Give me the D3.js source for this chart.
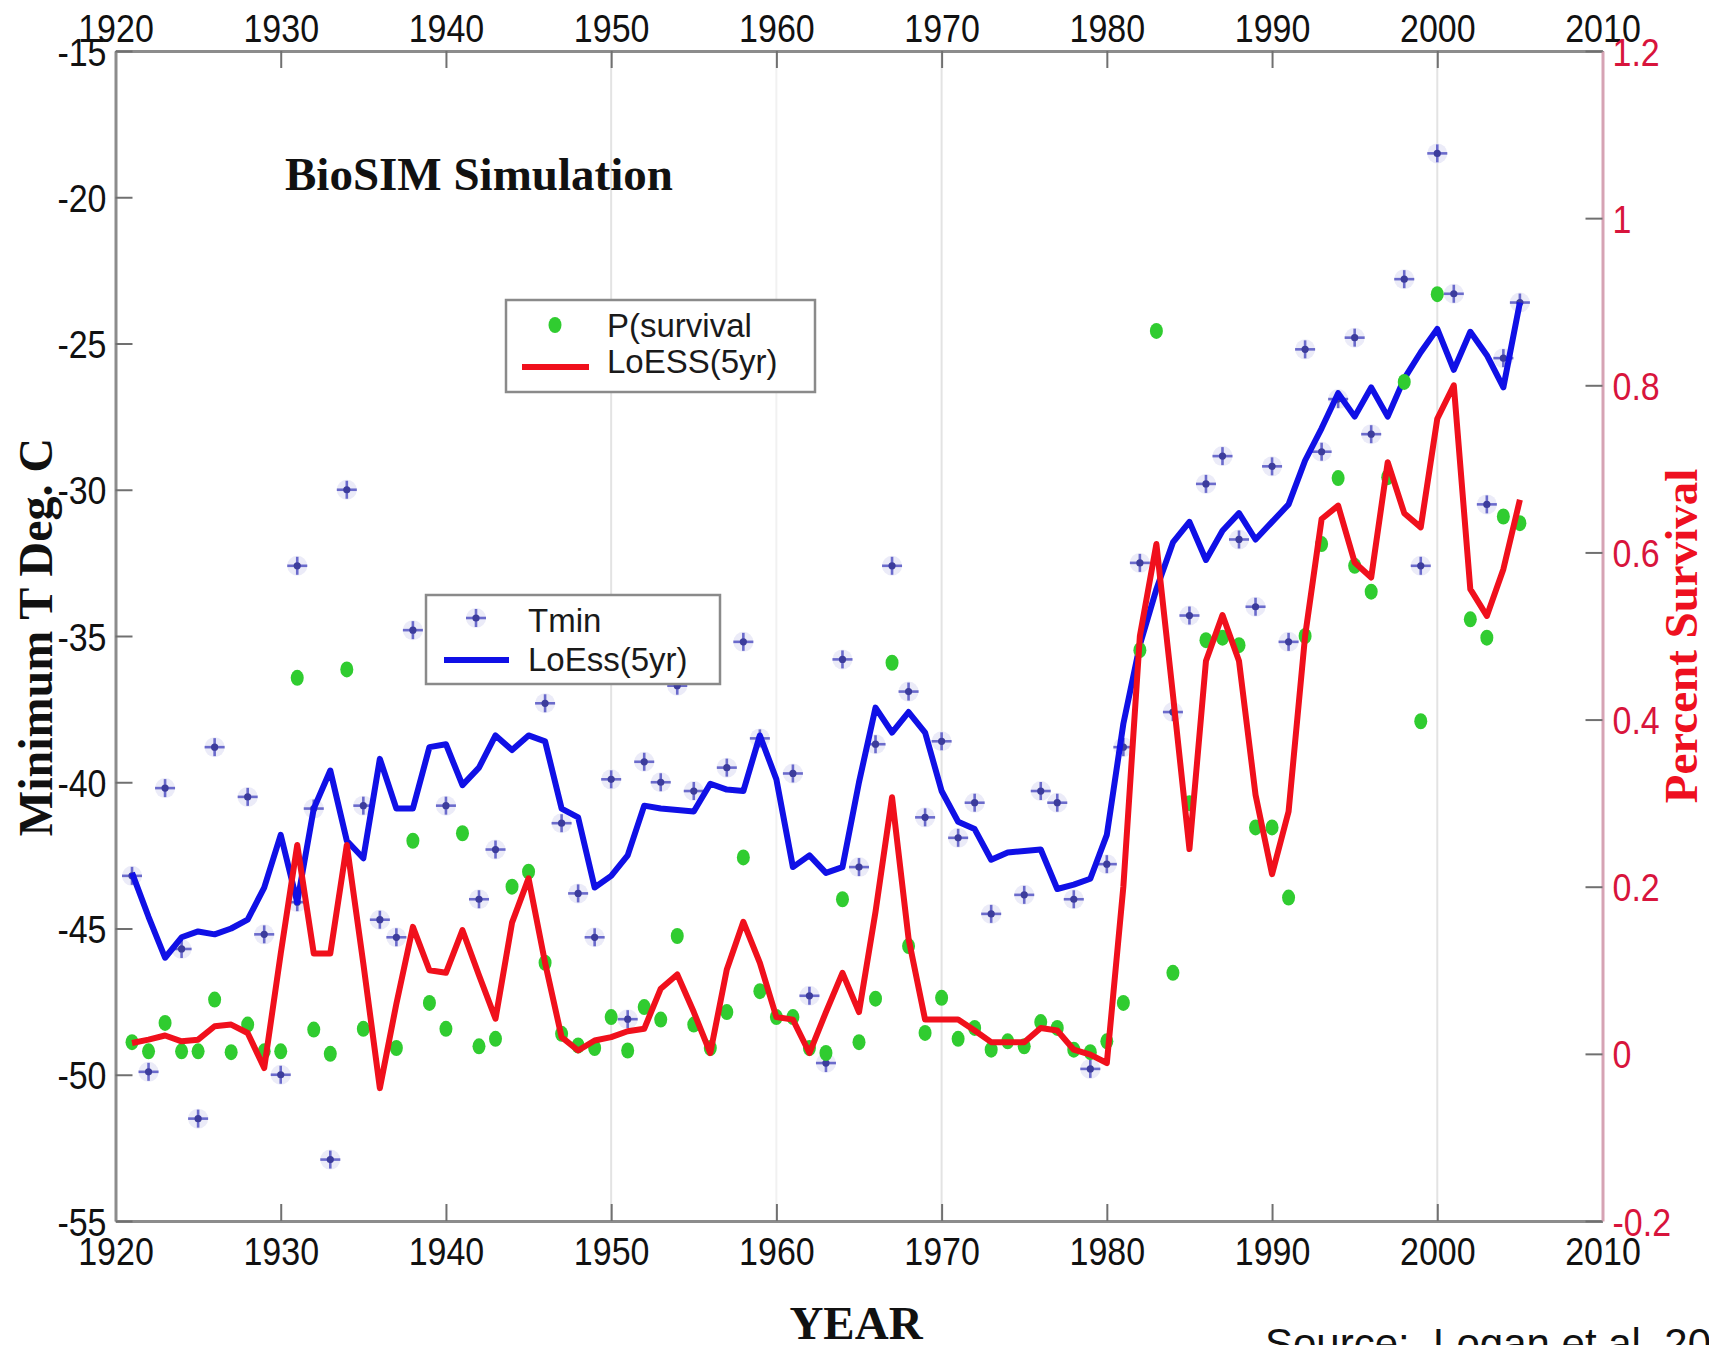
<!DOCTYPE html>
<html>
<head>
<meta charset="utf-8">
<script src="https://cdn.jsdelivr.net/npm/d3@7"></script>
<style>
  html, body { margin: 0; padding: 0; background: #fff; overflow: hidden; }
  svg { display: block; }
</style>
</head>
<body>
<svg id="chart"></svg>
<script>
// ---- data ----
const xTicks = [1920, 1930, 1940, 1950, 1960, 1970, 1980, 1990, 2000, 2010];
const tTicks = [-15, -20, -25, -30, -35, -40, -45, -50, -55];
const pTicks = [1.2, 1, 0.8, 0.6, 0.4, 0.2, 0, -0.2];

// 5-yr LoESS curves, one value per year 1921..2005
const loessYears = d3.range(1921, 2006);
const tminLoess = [
  -43.1, -44.6, -46.0, -45.3, -45.1, -45.2, -45.0, -44.7, -43.6, -41.8,
  -44.1, -40.9, -39.6, -42.0, -42.6, -39.2, -40.9, -40.9, -38.8, -38.7,
  -40.1, -39.5, -38.4, -38.9, -38.4, -38.6, -40.9, -41.2, -43.6, -43.2,
  -42.5, -40.8, -40.9, -40.95, -41.0, -40.05, -40.25, -40.3, -38.4, -39.9,
  -42.9, -42.5, -43.1, -42.9, -40.0, -37.45, -38.3, -37.6, -38.3, -40.3,
  -41.35, -41.6, -42.65, -42.4, -42.35, -42.3, -43.65, -43.5, -43.3, -41.8,
  -38.0, -35.3, -33.4, -31.8, -31.1, -32.4, -31.4, -30.8, -31.7, -31.1,
  -30.5, -29.0, -27.9, -26.7, -27.5, -26.5, -27.5, -26.2, -25.3, -24.5,
  -25.9, -24.6, -25.4, -26.5, -23.6
];
const survLoess = [
  0.013, 0.017, 0.022, 0.015, 0.017, 0.033, 0.035, 0.025, -0.017, 0.12,
  0.25, 0.12, 0.12, 0.25, 0.108, -0.041, 0.06, 0.152, 0.10, 0.097,
  0.148, 0.094, 0.042, 0.157, 0.21, 0.109, 0.02, 0.004, 0.016, 0.02,
  0.027, 0.03, 0.078, 0.095, 0.05, 0.001, 0.101, 0.158, 0.109, 0.044,
  0.041, 0.001, 0.05, 0.097, 0.05, 0.17, 0.307, 0.138, 0.041, 0.041,
  0.041, 0.028, 0.014, 0.014, 0.014, 0.031, 0.028, 0.005, -0.001, -0.011,
  0.20, 0.50, 0.61, 0.43, 0.245, 0.47, 0.525, 0.47, 0.31, 0.215,
  0.29, 0.50, 0.64, 0.656, 0.588, 0.57, 0.708, 0.647, 0.63, 0.76,
  0.80, 0.556, 0.524, 0.58, 0.663
];

// yearly Tmin points (blue stars)
const tminYears = [
  1921, 1922, 1923, 1924, 1925, 1926, 1928, 1929, 1930, 1931, 1931, 1932, 1933, 1934, 1935,
  1936, 1937, 1938, 1940, 1942, 1943, 1946, 1947, 1948, 1949, 1950, 1951, 1952, 1953, 1954,
  1955, 1957, 1958, 1959, 1961, 1962, 1963, 1964, 1965, 1966, 1967, 1968, 1969, 1970, 1971,
  1972, 1973, 1975, 1976, 1977, 1978, 1979, 1980, 1981, 1982, 1984, 1985, 1986, 1987, 1988,
  1989, 1990, 1991, 1992, 1993, 1994, 1995, 1996, 1998, 1999, 2000, 2001, 2003, 2004, 2005
];
const tminValues = [
  -43.2, -49.9, -40.2, -45.7, -51.5, -38.8, -40.5, -45.2, -50.0, -32.6, -44.1, -40.9, -52.9, -30.0, -40.8,
  -44.7, -45.3, -34.8, -40.8, -44.0, -42.3, -37.3, -41.4, -43.8, -45.3, -39.9, -48.1, -39.3, -40.0, -36.7,
  -40.3, -39.5, -35.2, -38.5, -39.7, -47.3, -49.6, -35.8, -42.9, -38.7, -32.6, -36.9, -41.2, -38.6, -41.9,
  -40.7, -44.5, -43.85, -40.3, -40.7, -44.0, -49.8, -42.8, -38.8, -32.5, -37.6, -34.3, -29.8, -28.85, -31.7,
  -34.0, -29.2, -35.2, -25.2, -28.7, -26.9, -24.8, -28.1, -22.8, -32.6, -18.5, -23.3, -30.5, -25.5, -23.6
];

// yearly P(survival) points (green dots)
const survYears = [
  1921, 1922, 1923, 1924, 1925, 1926, 1927, 1928, 1929, 1930, 1931, 1932, 1933, 1934, 1935,
  1937, 1938, 1939, 1940, 1941, 1942, 1943, 1944, 1945, 1946, 1947, 1948, 1949, 1950, 1951,
  1952, 1953, 1954, 1955, 1956, 1957, 1958, 1959, 1960, 1961, 1962, 1963, 1964, 1965, 1966,
  1967, 1968, 1969, 1970, 1971, 1972, 1973, 1974, 1975, 1976, 1977, 1978, 1979, 1980, 1981,
  1982, 1983, 1984, 1985, 1986, 1987, 1988, 1989, 1990, 1991, 1992, 1993, 1994, 1995, 1996,
  1997, 1998, 1999, 2000, 2002, 2003, 2004, 2005
];
const survValues = [
  0.014, 0.003, 0.037, 0.003, 0.003, 0.065, 0.002, 0.035, 0.003, 0.003, 0.45, 0.029, 0.0, 0.46, 0.03,
  0.007, 0.255, 0.061, 0.03, 0.264, 0.009, 0.018, 0.20, 0.218, 0.109, 0.024, 0.01, 0.007, 0.044, 0.004,
  0.056, 0.041, 0.141, 0.035, 0.007, 0.05, 0.235, 0.075, 0.044, 0.044, 0.007, 0.001, 0.185, 0.014, 0.066,
  0.468, 0.129, 0.025, 0.067, 0.018, 0.031, 0.005, 0.015, 0.009, 0.038, 0.031, 0.005, 0.002, 0.015, 0.061,
  0.483, 0.865, 0.097, 0.30, 0.495, 0.498, 0.489, 0.271, 0.271, 0.187, 0.50, 0.61, 0.689, 0.584, 0.553,
  0.69, 0.804, 0.398, 0.909, 0.52, 0.498, 0.643, 0.635
];

// ---- layout ----
const width = 1709, height = 1345;
const plot = {left: 115.5, right: 1602.5, top: 51, bottom: 1221};
const sans = "'Liberation Sans', Arial, sans-serif";
const serif = "'Liberation Serif', 'Times New Roman', serif";
const stretch = 1.15;

const svg = d3.select("#chart")
  .attr("width", width)
  .attr("height", height)
  .attr("viewBox", [0, 0, width, height]);

svg.append("rect").attr("width", width).attr("height", height).attr("fill", "#fff");

const x = d3.scaleLinear().domain([1920, 2010]).range([plot.left, plot.right]);
const yT = d3.scaleLinear().domain([-55, -15]).range([plot.bottom, plot.top]);
const yP = d3.scaleLinear().domain([-0.2, 1.2]).range([plot.bottom, plot.top]);

// faint vertical grid traces
svg.append("g")
  .selectAll("line")
  .data([1950, 1960, 1970, 2000])
  .join("line")
    .attr("x1", d => x(d)).attr("x2", d => x(d))
    .attr("y1", plot.top).attr("y2", plot.bottom)
    .attr("stroke", d => d === 1960 ? "#f1f1f1" : "#e3e3e3")
    .attr("stroke-width", 2);

function styleAxis(g, domainColor, textColor) {
  g.select(".domain").attr("stroke", domainColor).attr("stroke-width", 3);
  g.selectAll(".tick line").attr("stroke", "#707070").attr("stroke-width", 2);
  g.selectAll(".tick text")
    .attr("fill", textColor)
    .attr("font-family", sans)
    .attr("font-size", 34)
    .attr("transform", `scale(1,${stretch})`);
}

svg.append("g")
  .attr("transform", `translate(0,${plot.top})`)
  .call(d3.axisTop(x).tickValues(xTicks).tickFormat(d3.format("d")).tickSize(-17).tickSizeOuter(0))
  .call(g => styleAxis(g, "#8c8c8c", "#111"))
  .call(g => g.selectAll(".tick text").attr("y", -9 / stretch).attr("dy", 0));

svg.append("g")
  .attr("transform", `translate(0,${plot.bottom})`)
  .call(d3.axisBottom(x).tickValues(xTicks).tickFormat(d3.format("d")).tickSize(-17).tickSizeOuter(0))
  .call(g => styleAxis(g, "#8c8c8c", "#111"))
  .call(g => g.selectAll(".tick text").attr("y", 44 / stretch).attr("dy", 0));

svg.append("g")
  .attr("transform", `translate(${plot.left},0)`)
  .call(d3.axisLeft(yT).tickValues(tTicks).tickFormat(d => String(d)).tickSize(-17).tickSizeOuter(0))
  .call(g => styleAxis(g, "#8c8c8c", "#111"))
  .call(g => g.selectAll(".tick text").attr("x", -9).attr("dy", "0.36em"));

svg.append("g")
  .attr("transform", `translate(${plot.right},0)`)
  .call(d3.axisRight(yP).tickValues(pTicks).tickFormat(d => String(d)).tickSize(-17).tickSizeOuter(0))
  .call(g => styleAxis(g, "#d6a3b4", "#d8143c"))
  .call(g => g.selectAll(".tick text").attr("x", 10).attr("dy", "0.36em"));

// ---- marks ----
function star(g) {
  g.append("circle").attr("r", 10).attr("fill", "#e4e4f6").attr("opacity", 0.75);
  g.append("line").attr("x1", -10).attr("x2", 10).attr("stroke", "#6a6acb").attr("stroke-width", 2.6);
  g.append("line").attr("y1", -9).attr("y2", 9).attr("stroke", "#6a6acb").attr("stroke-width", 2.6);
  g.append("circle").attr("r", 3.6).attr("fill", "#3c3c9c");
}

const tminPts = tminYears.map((yr, i) => ({year: yr, value: tminValues[i]}));
svg.append("g")
  .selectAll("g")
  .data(tminPts)
  .join("g")
    .attr("transform", d => `translate(${x(d.year)},${yT(d.value)})`)
    .each(function() { star(d3.select(this)); });

const blueLine = d3.line()
  .x((d, i) => x(loessYears[i]))
  .y(d => yT(d));

svg.append("path")
  .datum(tminLoess)
  .attr("fill", "none")
  .attr("stroke", "#1010e6")
  .attr("stroke-width", 6)
  .attr("stroke-linejoin", "round")
  .attr("d", blueLine);

const survPts = survYears.map((yr, i) => ({year: yr, value: survValues[i]}));
svg.append("g")
  .selectAll("ellipse")
  .data(survPts)
  .join("ellipse")
    .attr("cx", d => x(d.year))
    .attr("cy", d => yP(d.value))
    .attr("rx", 6.5)
    .attr("ry", 8)
    .attr("fill", "#30cc30");

const redLine = d3.line()
  .x((d, i) => x(loessYears[i]))
  .y(d => yP(d));

svg.append("path")
  .datum(survLoess)
  .attr("fill", "none")
  .attr("stroke", "#f0101c")
  .attr("stroke-width", 6)
  .attr("stroke-linejoin", "round")
  .attr("d", redLine);

// ---- legends ----
const leg1 = svg.append("g");
leg1.append("rect").attr("x", 506).attr("y", 300).attr("width", 309).attr("height", 92)
  .attr("fill", "#fff").attr("stroke", "#8a8a8a").attr("stroke-width", 2.5);
leg1.append("ellipse").attr("cx", 555).attr("cy", 325).attr("rx", 6.5).attr("ry", 8).attr("fill", "#30cc30");
leg1.append("line").attr("x1", 522).attr("x2", 589).attr("y1", 367).attr("y2", 367)
  .attr("stroke", "#f0101c").attr("stroke-width", 6);
leg1.append("text").attr("x", 607).attr("y", 337).text("P(survival");
leg1.append("text").attr("x", 607).attr("y", 373).text("LoESS(5yr)");

const leg2 = svg.append("g");
leg2.append("rect").attr("x", 426).attr("y", 595).attr("width", 294).attr("height", 89)
  .attr("fill", "#fff").attr("stroke", "#8a8a8a").attr("stroke-width", 2.5);
leg2.append("g").attr("transform", "translate(476,618)").call(star);
leg2.append("line").attr("x1", 444).attr("x2", 509).attr("y1", 660).attr("y2", 660)
  .attr("stroke", "#1010e6").attr("stroke-width", 6);
leg2.append("text").attr("x", 528).attr("y", 632).text("Tmin");
leg2.append("text").attr("x", 528).attr("y", 671).text("LoEss(5yr)");

[leg1, leg2].forEach(l => l.selectAll("text")
  .attr("font-family", sans).attr("font-size", 33).attr("fill", "#1a1a1a"));

// ---- titles ----
svg.append("text")
  .attr("x", 285).attr("y", 190)
  .attr("font-family", serif).attr("font-weight", "bold").attr("font-size", 47)
  .attr("fill", "#111")
  .text("BioSIM Simulation");

svg.append("text")
  .attr("transform", "translate(52,637) rotate(-90)")
  .attr("text-anchor", "middle")
  .attr("font-family", serif).attr("font-weight", "bold").attr("font-size", 48)
  .attr("fill", "#111")
  .text("Minimum T Deg. C");

svg.append("text")
  .attr("transform", "translate(1697,636) rotate(-90)")
  .attr("text-anchor", "middle")
  .attr("font-family", serif).attr("font-weight", "bold").attr("font-size", 47)
  .attr("fill", "#ee1020")
  .text("Percent Survival");

svg.append("text")
  .attr("x", 856).attr("y", 1339)
  .attr("text-anchor", "middle")
  .attr("font-family", serif).attr("font-weight", "bold").attr("font-size", 47)
  .attr("fill", "#111")
  .text("YEAR");

// source note runs off the page edge, as in the original
svg.append("text")
  .attr("x", 1265).attr("y", 1358)
  .attr("font-family", sans).attr("font-size", 42)
  .attr("fill", "#111")
  .style("white-space", "pre")
  .text("Source:  Logan et al. 2006");
</script>
</body>
</html>
